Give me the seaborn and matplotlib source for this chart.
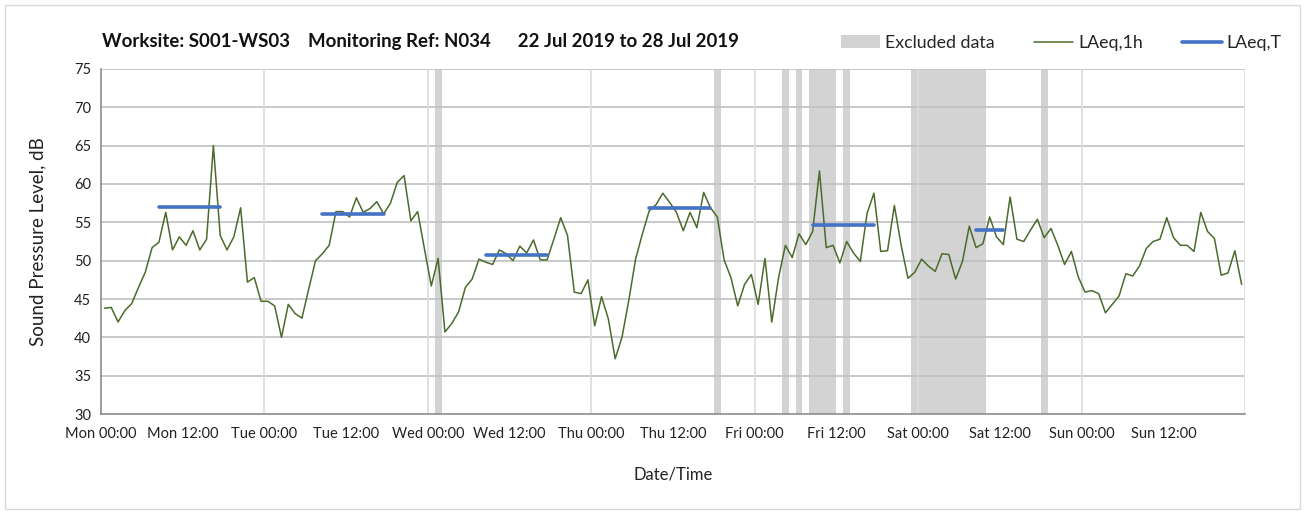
import numpy as np
import pandas as pd
import seaborn as sns
import matplotlib.pyplot as plt
from matplotlib.patches import Patch, Rectangle
from matplotlib.lines import Line2D

# ---------------------------------------------------------
# Data: hourly LAeq,1h (one value per hour, Mon 00:00 -> Sun 23:00)
# ---------------------------------------------------------
laeq_1h = [
    43.8, 43.9, 42.0, 43.5, 44.4, 46.5, 48.5, 51.7, 52.4, 56.3, 51.4, 53.1,
    52.0, 53.9, 51.4, 52.8, 65.0, 53.3, 51.4, 53.1, 56.9, 47.2, 47.8, 44.7,
    44.7, 44.1, 40.0, 44.3, 43.1, 42.5, 46.3, 50.0, 50.9, 52.0, 56.4, 56.4,
    55.7, 58.2, 56.3, 56.8, 57.7, 56.1, 57.5, 60.2, 61.1, 55.2, 56.4, 51.5,
    46.7, 50.3, 40.7, 41.8, 43.3, 46.5, 47.6, 50.2, 49.8, 49.5, 51.4, 50.9,
    50.0, 51.9, 51.0, 52.7, 50.1, 50.1, 52.8, 55.6, 53.3, 45.9, 45.7, 47.5,
    41.5, 45.3, 42.4, 37.2, 40.0, 44.8, 50.2, 53.5, 56.5, 57.3, 58.8, 57.6,
    56.3, 53.9, 56.3, 54.3, 58.9, 56.9, 55.7, 50.1, 47.8, 44.1, 46.9, 48.2,
    44.3, 50.3, 42.0, 47.8, 52.0, 50.4, 53.5, 52.1, 53.8, 61.7, 51.7, 52.0,
    49.7, 52.5, 51.0, 49.9, 56.2, 58.8, 51.2, 51.3, 57.2, 52.0, 47.7, 48.5,
    50.2, 49.3, 48.6, 50.9, 50.8, 47.6, 49.9, 54.5, 51.7, 52.2, 55.7, 53.1,
    52.1, 58.3, 52.8, 52.5, 54.0, 55.4, 53.0, 54.2, 52.0, 49.5, 51.2, 47.9,
    45.9, 46.1, 45.7, 43.2, 44.3, 45.4, 48.3, 48.0, 49.3, 51.6, 52.5, 52.8,
    55.6, 53.0, 52.0, 52.0, 51.2, 56.3, 53.8, 52.9, 48.1, 48.4, 51.3, 46.9,
]

# LAeq,T daytime periods (first and last hour index of each period)
period_start = [8, 32, 56, 80, 104, 128]
period_end = [17, 41, 65, 89, 113, 132]
laeq_t = [57.0, 56.1, 50.8, 56.9, 54.7, 54.0]

# Excluded data windows (hours from Mon 00:00)
excl_start = [49, 90, 100, 102, 104, 109, 119, 138]
excl_end = [50, 91, 101, 103, 108, 110, 130, 139]

tick_labels = ["Mon 00:00", "Mon 12:00", "Tue 00:00", "Tue 12:00",
               "Wed 00:00", "Wed 12:00", "Thu 00:00", "Thu 12:00",
               "Fri 00:00", "Fri 12:00", "Sat 00:00", "Sat 12:00",
               "Sun 00:00", "Sun 12:00", ""]

# ---------------------------------------------------------
# Tables for seaborn
# ---------------------------------------------------------
hourly = pd.DataFrame({"hour": np.arange(len(laeq_1h)) + 0.5, "level": laeq_1h})

rows = []
for k, (s, e, v) in enumerate(zip(period_start, period_end, laeq_t)):
    rows.append({"period": k, "hour": s + 0.5, "level": v})
    rows.append({"period": k, "hour": e + 0.5, "level": v})
periods = pd.DataFrame(rows)

# ---------------------------------------------------------
# Plot
# ---------------------------------------------------------
sns.set_style("white")
plt.rcParams["font.family"] = ["Lato", "DejaVu Sans"]

fig = plt.figure(figsize=(13.07, 5.11), dpi=100)
ax = fig.add_axes([0.0773, 0.1898, 0.8753, 0.6752])

green = "#4a6b2c"
blue = "#4472c4"
grey = "#d3d3d3"

for s, e in zip(excl_start, excl_end):
    ax.axvspan(s, e, color=grey, lw=0, zorder=0.5)

sns.lineplot(data=hourly, x="hour", y="level", color=green, lw=1.1, ax=ax, zorder=3)
sns.lineplot(data=periods, x="hour", y="level", units="period", estimator=None,
             color=blue, lw=2.6, ax=ax, zorder=4)

ax.set_xlim(0, 168)
ax.set_ylim(30, 75)
ax.set_yticks(np.arange(30, 76, 5))
ax.set_xticks(np.arange(0, 169, 12))
ax.set_xticklabels(tick_labels)

# gridlines: horizontal every 5 dB, vertical at midnights
for y in range(35, 76, 5):
    ax.axhline(y, color="#c0c0c0", lw=1.2, zorder=1)
for x in range(24, 169, 24):
    ax.axvline(x, color="#dcdcdc", lw=1.2, zorder=1)

for side in ["top", "right"]:
    ax.spines[side].set_visible(False)
for side in ["left", "bottom"]:
    ax.spines[side].set_color("#8c8c8c")
    ax.spines[side].set_linewidth(1.2)

ax.tick_params(axis="both", direction="out", length=4, color="#8c8c8c",
               labelsize=10.5, labelcolor="#222222", pad=3)
ax.tick_params(axis="x", pad=5)

ax.set_xlabel("Date/Time", fontsize=12, color="#222222", labelpad=19)
ax.set_ylabel("Sound Pressure Level, dB", fontsize=13.5, color="#222222", labelpad=20)

fig.text(0.078, 0.918,
         "Worksite: S001-WS03    Monitoring Ref: N034      22 Jul 2019 to 28 Jul 2019",
         fontsize=13.4, fontweight="bold", color="#111111", va="center")

handles = [Patch(facecolor=grey, edgecolor="none", label="Excluded data"),
           Line2D([], [], color=green, lw=1.1, label="LAeq,1h"),
           Line2D([], [], color=blue, lw=2.6, label="LAeq,T")]
fig.legend(handles=handles, loc="center right", bbox_to_anchor=(0.993, 0.916),
           ncol=3, frameon=False, fontsize=12.8, handlelength=2.2,
           handletextpad=0.3, columnspacing=2.2)

# light outer border
fig.patches.append(Rectangle((0.004, 0.004), 0.991, 0.986, transform=fig.transFigure,
                             fill=False, edgecolor="#d9d9d9", lw=1))

plt.savefig("out.png", dpi=100)
